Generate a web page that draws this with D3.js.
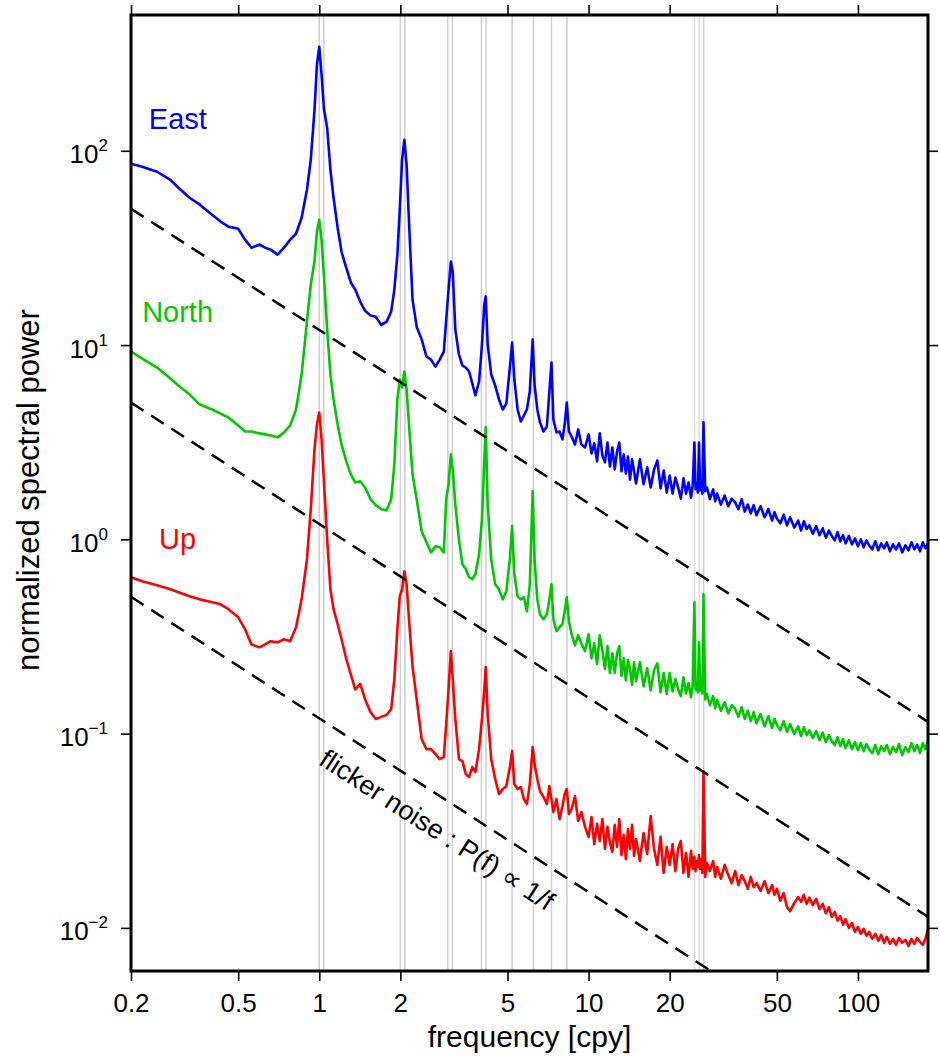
<!DOCTYPE html>
<html>
<head>
<meta charset="utf-8">
<script src="https://cdnjs.cloudflare.com/ajax/libs/d3/7.8.5/d3.min.js"></script>
<style>
    body { margin: 0; background: #fff; }
    svg { font-family: "Liberation Sans", Arial, Helvetica, sans-serif; }
</style>
</head>
<body>
<svg></svg>
<script>
// frequency grid [cpy], shared by the three spectra
var freq = [0.2, 0.22, 0.25, 0.28, 0.3, 0.33, 0.36, 0.4, 0.43, 0.46,
            0.5, 0.53, 0.56, 0.6, 0.63, 0.66, 0.7, 0.74, 0.78, 0.82,
            0.86, 0.9, 0.93, 0.96, 0.98, 1.0, 1.02, 1.04, 1.07, 1.1,
            1.13, 1.17, 1.21, 1.26, 1.31, 1.36, 1.42, 1.48, 1.55, 1.62,
            1.7, 1.78, 1.85, 1.9, 1.95, 1.99, 2.03, 2.07, 2.11, 2.16,
            2.22, 2.3, 2.4, 2.5, 2.6, 2.7, 2.8, 2.9, 2.96, 3.02,
            3.08, 3.13, 3.2, 3.3, 3.4, 3.5, 3.6, 3.7, 3.8, 3.92,
            4.02, 4.1, 4.15, 4.22, 4.35, 4.5, 4.65, 4.8, 4.95, 5.1,
            5.2, 5.3, 5.45, 5.6, 5.75, 5.9, 6.05, 6.2, 6.3, 6.45,
            6.6, 6.8, 7.0, 7.15, 7.28, 7.4, 7.6, 7.8, 8.0, 8.15,
            8.3, 8.45, 8.65, 8.9, 9.15, 9.4, 9.7,
            10, 10.25, 10.5, 10.75, 11, 11.25, 11.5, 11.75, 12, 12.25,
            12.5, 12.75, 13, 13.25, 13.5, 13.75, 14, 14.25, 14.5, 14.75,
            15, 15.5, 16, 16.5, 17, 17.5, 18, 18.5, 19, 19.5,
            20, 20.5, 21, 21.5, 22, 22.5, 23, 23.5, 24, 24.35,
            24.7, 24.95, 25.2, 25.45, 25.7, 25.95, 26.2, 26.45, 26.7, 27.1,
            27.5, 28.2, 29, 29.5, 30, 31, 32, 33, 34, 35,
            36, 37, 38, 39, 40, 41, 42, 43.5, 45, 46.5,
            48, 49, 50, 51.5, 53, 54.5, 56, 58, 60, 61.5,
            63, 64.5, 66, 68, 70, 72, 74, 76, 78, 80,
            82, 84, 86, 88, 90, 92.5, 95, 97.5, 100, 102.5,
            105, 107.5, 110, 113, 116, 119, 122, 125, 128, 131.5,
            135, 138.5, 142, 146, 150, 154, 158, 162, 166, 170,
            174, 178, 182];

var eastPower = [85.8, 82.8, 78.0, 70.9, 64.5, 57.3, 52.8, 46.9, 43.2, 40.7,
                 39.7, 34.9, 31.7, 32.9, 31.7, 31.0, 29.2, 31.7, 34.9, 37.4,
                 45.2, 63.0, 89.9, 162, 277, 343, 246, 166, 131, 79.9,
                 57.3, 40.2, 30.2, 25.0, 21.0, 19.3, 16.7, 15.0, 14.2, 14.0,
                 12.7, 13.2, 14.9, 19.3, 29.2, 49.7, 89.9, 114, 84.7, 39.3,
                 17.1, 12.4, 10.7, 8.73, 8.42, 7.75, 8.42, 9.26, 13.5, 19.3,
                 26.9, 23.9, 12.0, 8.94, 7.85, 7.66, 7.31, 6.34, 5.50, 6.49,
                 10.1, 16.2, 17.8, 10.1, 7.05, 6.19, 5.25, 4.66, 5.00, 7.66,
                 10.3, 6.65, 4.66, 4.04, 4.34, 4.66, 5.77, 10.7, 6.26, 4.66,
                 4.00, 3.59, 3.81, 5.77, 8.13, 4.14, 3.55, 3.59, 3.27, 3.90,
                 5.06, 3.59, 3.38, 3.08, 3.68, 3.08, 2.97,
                 3.47, 2.77, 3.12, 2.52, 3.51, 2.70, 2.49, 3.15, 2.37, 2.97,
                 2.29, 2.83, 3.15, 2.24, 2.74, 2.18, 2.67, 2.03, 2.58, 2.24,
                 1.94, 2.58, 1.92, 2.35, 1.85, 2.29, 2.55, 1.83, 2.26, 1.74,
                 2.13, 1.72, 2.08, 1.85, 1.62, 2.06, 1.72, 1.96, 1.64, 1.90,
                 3.15, 1.81, 1.94, 1.74, 3.15, 1.79, 1.90, 1.72, 4.00, 1.77,
                 1.85, 1.61, 1.81, 1.57, 1.72, 1.51, 1.68, 1.48, 1.62, 1.55,
                 1.43, 1.61, 1.39, 1.51, 1.36, 1.50, 1.33, 1.48, 1.30, 1.43,
                 1.25, 1.38, 1.28, 1.21, 1.34, 1.18, 1.30, 1.15, 1.25, 1.11,
                 1.24, 1.13, 1.18, 1.07, 1.17, 1.05, 1.14, 1.02, 1.11, 1.04,
                 0.988, 1.09, 0.977, 1.05, 0.954, 1.04, 0.943, 1.01, 0.921, 1.00,
                 0.910, 0.988, 0.932, 0.888, 0.977, 0.878, 0.954, 0.899, 0.965, 0.868,
                 0.943, 0.888, 0.954, 0.857, 0.932, 0.878, 0.965, 0.888, 0.943, 0.868,
                 0.965, 0.899, 0.954];

var northPower = [9.26, 8.52, 7.66, 6.73, 6.19, 5.57, 4.94, 4.66, 4.44, 4.24,
                  3.86, 3.59, 3.59, 3.51, 3.47, 3.42, 3.35, 3.55, 3.86, 4.66,
                  7.05, 13.2, 20.5, 26.9, 38.3, 44.2, 34.9, 23.0, 12.0, 7.05,
                  5.25, 3.90, 3.08, 2.52, 2.16, 1.96, 1.99, 1.85, 1.61, 1.50,
                  1.43, 1.41, 1.61, 2.43, 5.25, 6.65, 6.05, 7.31, 5.90, 3.68,
                  2.16, 1.61, 1.10, 0.965, 0.857, 0.921, 0.910, 0.857, 1.61, 1.92,
                  2.74, 2.29, 1.51, 1.00, 0.744, 0.701, 0.638, 0.623, 0.661, 0.837,
                  1.27, 2.58, 3.77, 1.51, 0.789, 0.587, 0.553, 0.491, 0.540, 0.789,
                  1.17, 0.661, 0.509, 0.491, 0.503, 0.426, 0.587, 1.77, 0.789, 0.491,
                  0.411, 0.388, 0.411, 0.491, 0.587, 0.388, 0.337, 0.353, 0.366, 0.426,
                  0.503, 0.379, 0.325, 0.285, 0.321, 0.292, 0.266,
                  0.325, 0.244, 0.292, 0.228, 0.321, 0.269, 0.215, 0.282, 0.205, 0.259,
                  0.205, 0.259, 0.282, 0.198, 0.244, 0.188, 0.239, 0.215, 0.178, 0.233,
                  0.186, 0.233, 0.175, 0.217, 0.167, 0.212, 0.230, 0.163, 0.205, 0.160,
                  0.205, 0.165, 0.191, 0.169, 0.156, 0.195, 0.161, 0.182, 0.154, 0.178,
                  0.474, 0.169, 0.182, 0.163, 0.295, 0.167, 0.178, 0.161, 0.522, 0.150,
                  0.160, 0.140, 0.156, 0.135, 0.149, 0.131, 0.145, 0.127, 0.140, 0.134,
                  0.122, 0.137, 0.119, 0.131, 0.116, 0.129, 0.113, 0.126, 0.109, 0.123,
                  0.107, 0.119, 0.111, 0.104, 0.116, 0.102, 0.112, 0.0994, 0.109, 0.0971,
                  0.108, 0.0982, 0.104, 0.0948, 0.103, 0.0926, 0.101, 0.0904, 0.0982, 0.0915,
                  0.0873, 0.0959, 0.0862, 0.0937, 0.0842, 0.0926, 0.0832, 0.0904, 0.0822, 0.0894,
                  0.0813, 0.0883, 0.0832, 0.0794, 0.0873, 0.0784, 0.0862, 0.0813, 0.0873, 0.0784,
                  0.0852, 0.0803, 0.0883, 0.0775, 0.0852, 0.0803, 0.0894, 0.0813, 0.0873, 0.0794,
                  0.0894, 0.0832, 0.0926];

var upPower = [0.638, 0.608, 0.580, 0.553, 0.534, 0.509, 0.491, 0.474, 0.463, 0.437,
               0.397, 0.345, 0.288, 0.278, 0.288, 0.299, 0.295, 0.306, 0.299, 0.353,
               0.491, 0.789, 1.43, 2.90, 3.90, 4.50, 3.27, 2.03, 1.00, 0.553,
               0.437, 0.366, 0.306, 0.242, 0.202, 0.169, 0.180, 0.150, 0.129, 0.119,
               0.122, 0.125, 0.134, 0.191, 0.345, 0.509, 0.553, 0.685, 0.587, 0.366,
               0.222, 0.150, 0.0937, 0.0832, 0.0832, 0.0784, 0.0739, 0.0757, 0.112, 0.169,
               0.266, 0.191, 0.119, 0.0739, 0.0722, 0.0619, 0.0597, 0.0673, 0.0634, 0.0832,
               0.119, 0.169, 0.220, 0.126, 0.0739, 0.0584, 0.0489, 0.0518, 0.0537, 0.0673,
               0.0813, 0.0550, 0.0518, 0.0531, 0.0460, 0.0434, 0.0550, 0.0852, 0.0697, 0.0584,
               0.0506, 0.0472, 0.0434, 0.0537, 0.0460, 0.0395, 0.0460, 0.0363, 0.0424, 0.0489,
               0.0518, 0.0386, 0.0409, 0.0477, 0.0355, 0.0395, 0.0331,
               0.0294, 0.0372, 0.0270, 0.0343, 0.0280, 0.0363, 0.0255, 0.0331, 0.0274, 0.0246,
               0.0339, 0.0261, 0.0363, 0.0237, 0.0301, 0.0226, 0.0323, 0.0255, 0.0339, 0.0235,
               0.0287, 0.0221, 0.0308, 0.0240, 0.0377, 0.0255, 0.0211, 0.0294, 0.0192, 0.0261,
               0.0211, 0.0270, 0.0196, 0.0255, 0.0280, 0.0192, 0.0243, 0.0183, 0.0249, 0.0201,
               0.0232, 0.0196, 0.0221, 0.0206, 0.0237, 0.0201, 0.0226, 0.0192, 0.0642, 0.0183,
               0.0216, 0.0196, 0.0221, 0.0183, 0.0206, 0.0179, 0.0211, 0.0187, 0.0170, 0.0196,
               0.0166, 0.0187, 0.0174, 0.0159, 0.0183, 0.0162, 0.0170, 0.0155, 0.0174, 0.0151,
               0.0166, 0.0148, 0.0159, 0.0138, 0.0151, 0.0128, 0.0122, 0.0134, 0.0144, 0.0136,
               0.0148, 0.0133, 0.0143, 0.0131, 0.0141, 0.0125, 0.0133, 0.0119, 0.0128, 0.0114,
               0.0121, 0.0109, 0.0115, 0.0104, 0.0111, 0.0100, 0.0106, 0.00954, 0.0101, 0.00932,
               0.00988, 0.00910, 0.00954, 0.00878, 0.00932, 0.00858, 0.00920, 0.00837, 0.00899, 0.00827,
               0.00878, 0.00818, 0.00888, 0.00837, 0.00868, 0.00808, 0.00878, 0.00827, 0.00888, 0.00847,
               0.00818, 0.00878, 0.00988];

// reference frequencies drawn as thin grey lines
var markerFreqs = [1, 1.04, 2, 2.08, 3, 3.12, 4, 4.16, 5.2, 6.24, 7.28, 8.32, 24.73, 25.74, 26.74];

// flicker noise guide lines: power at the two ends of the frequency range
var flickerFreq = [0.2, 182];
var flickerLevels = [[50.3, 0.115], [5.06, 0.0114], [0.506, 0.00114]];
var flickerNote = 'flicker noise : P(f) \u221D 1/f';
var flickerNotePos = [0.985, 0.07];

var xTicks = [0.2, 0.5, 1, 2, 5, 10, 20, 50, 100];
var xTickLabels = ['0.2', '0.5', '1', '2', '5', '10', '20', '50', '100'];
var yTicks = [0.01, 0.1, 1, 10, 100];
var yTickExponents = ['\u22122', '\u22121', '0', '1', '2'];

var seriesNames = ['East', 'North', 'Up'];
var seriesColors = ['#0000ff', '#00c800', '#ff0000'];
var seriesLabelPos = [[0.233, 130], [0.22, 13.1], [0.254, 0.89]];

var width = 940;
var height = 1060;
var margin = {left: 131, right: 12, top: 15, bottom: 89};

var svg = d3.select('svg');
var xScale, yScale;

//graph setup
var makeGraph = () => {
    svg.attr('width', width)
       .attr('height', height);

    svg.append('defs')
        .append('clipPath')
        .attr('id', 'plot-clip')
        .append('rect')
        .attr('x', margin.left)
        .attr('y', margin.top)
        .attr('width', width - margin.left - margin.right)
        .attr('height', height - margin.top - margin.bottom);
}

//scale set up
var setScale = () => {
    xScale = d3.scaleLog()
                .domain([0.2, 182])
                .range([margin.left, width - margin.right]);

    yScale = d3.scaleLog()
                .domain([0.006, 500])
                .range([height - margin.bottom, margin.top]);
}

//grey reference lines
var drawMarkers = () => {
    svg.append('g')
        .attr('id', 'markers')
        .selectAll('line')
        .data(markerFreqs)
        .enter()
        .append('line')
        .attr('x1', (d) => xScale(d))
        .attr('x2', (d) => xScale(d))
        .attr('y1', yScale.range()[0])
        .attr('y2', yScale.range()[1])
        .attr('stroke', (d) => d > 20 && d < 26 ? '#dedede' : '#cfcfcf')
        .attr('stroke-width', 1.5);
}

//spectra
var drawSpectra = () => {
    var series = [eastPower, northPower, upPower];

    var line = d3.line()
                .x((d, i) => xScale(freq[i]))
                .y((d) => yScale(d));

    svg.append('g')
        .attr('clip-path', 'url(#plot-clip)')
        .selectAll('path')
        .data(series)
        .enter()
        .append('path')
        .attr('d', (d) => line(d))
        .attr('fill', 'none')
        .attr('stroke', (d, i) => seriesColors[i])
        .attr('stroke-width', 2.6)
        .attr('stroke-linejoin', 'round');
}

//flicker noise lines
var drawFlicker = () => {
    svg.append('g')
        .attr('clip-path', 'url(#plot-clip)')
        .selectAll('line')
        .data(flickerLevels)
        .enter()
        .append('line')
        .attr('x1', xScale(flickerFreq[0]))
        .attr('x2', xScale(flickerFreq[1]))
        .attr('y1', (d) => yScale(d[0]))
        .attr('y2', (d) => yScale(d[1]))
        .attr('stroke', '#000')
        .attr('stroke-width', 2.5)
        .attr('stroke-dasharray', '15,9');

    var last = flickerLevels[2];
    var angle = Math.atan2(yScale(last[1]) - yScale(last[0]),
                           xScale(flickerFreq[1]) - xScale(flickerFreq[0])) * 180 / Math.PI;

    svg.append('text')
        .attr('transform', 'translate(' + xScale(flickerNotePos[0]) + ',' + yScale(flickerNotePos[1]) + ') rotate(' + angle + ')')
        .attr('font-size', 27)
        .attr('fill', '#000')
        .text(flickerNote);
}

var setAxis = () => {
    var xAxis = d3.axisBottom(xScale)
                .tickValues(xTicks)
                .tickFormat((d, i) => xTickLabels[i])
                .tickSize(10)
                .tickPadding(13);

    var xAxisTop = d3.axisTop(xScale)
                .tickValues(xTicks)
                .tickFormat('')
                .tickSize(10);

    var yAxis = d3.axisLeft(yScale)
                .tickValues(yTicks)
                .tickFormat('')
                .tickSize(10)
                .tickPadding(13);

    var yAxisRight = d3.axisRight(yScale)
                .tickValues(yTicks)
                .tickFormat('')
                .tickSize(10);

    svg.append('g')
        .attr('id', 'x-axis')
        .attr('transform', 'translate(0, ' + (height - margin.bottom) + ')')
        .call(xAxis);

    svg.append('g')
        .attr('id', 'x-axis-top')
        .attr('transform', 'translate(0, ' + margin.top + ')')
        .call(xAxisTop);

    svg.append('g')
        .attr('id', 'y-axis')
        .attr('transform', 'translate(' + margin.left + ', 0)')
        .call(yAxis);

    svg.append('g')
        .attr('id', 'y-axis-right')
        .attr('transform', 'translate(' + (width - margin.right) + ', 0)')
        .call(yAxisRight);

    svg.selectAll('#x-axis, #x-axis-top, #y-axis, #y-axis-right')
        .attr('font-size', 26)
        .attr('font-family', null);

    svg.selectAll('.domain').remove();
    svg.selectAll('.tick line')
        .attr('stroke', '#000')
        .attr('stroke-width', 1.6);

    // powers of ten with superscript exponents
    svg.select('#y-axis')
        .selectAll('.tick text')
        .attr('dy', 12)
        .each(function(d, i) {
            var t = d3.select(this);
            t.text(null);
            t.append('tspan').text('10');
            t.append('tspan')
                .attr('dy', -12)
                .attr('font-size', 17)
                .text(yTickExponents[i]);
        });

    // frame
    svg.append('rect')
        .attr('x', margin.left)
        .attr('y', margin.top)
        .attr('width', width - margin.left - margin.right)
        .attr('height', height - margin.top - margin.bottom)
        .attr('fill', 'none')
        .attr('stroke', '#000')
        .attr('stroke-width', 3);

    svg.append('text')
        .attr('x', (margin.left + width - margin.right) / 2)
        .attr('y', 1047)
        .attr('text-anchor', 'middle')
        .attr('font-size', 30)
        .text('frequency [cpy]');

    svg.append('text')
        .attr('transform', 'translate(39, 490) rotate(-90)')
        .attr('text-anchor', 'middle')
        .attr('font-size', 31)
        .text('normalized spectral power');
}

var setLabels = () => {
    svg.append('g')
        .selectAll('text')
        .data(seriesNames)
        .enter()
        .append('text')
        .attr('x', (d, i) => xScale(seriesLabelPos[i][0]))
        .attr('y', (d, i) => yScale(seriesLabelPos[i][1]))
        .attr('font-size', 29)
        .attr('fill', (d, i) => seriesColors[i])
        .text((d) => d);
}

makeGraph();
setScale();
drawMarkers();
drawSpectra();
drawFlicker();
setAxis();
setLabels();
</script>
</body>
</html>
